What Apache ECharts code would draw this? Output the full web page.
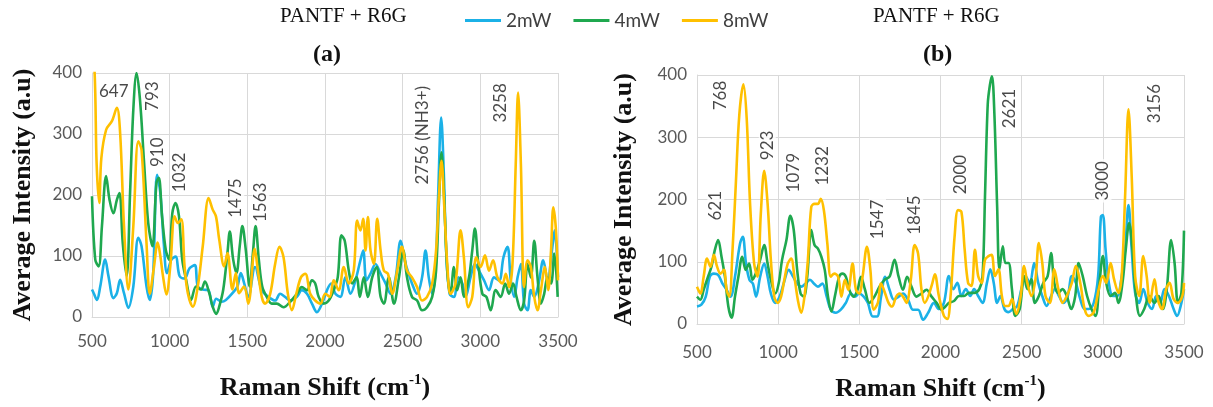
<!DOCTYPE html>
<html>
<head>
<meta charset="utf-8">
<title>Raman PANTF + R6G</title>
<script src="https://cdn.jsdelivr.net/npm/echarts@6/dist/echarts.min.js"></script>
<style>
  html, body { margin: 0; padding: 0; width: 100%; height: 100%; background: #fff; overflow: hidden; }
  #main { width: 1213px; height: 407px; }
</style>
</head>
<body>
<div id="main"></div>
<script>
// power levels
var powers = ['2mW', '4mW', '8mW'];
var colors = ['#1BB1E7', '#1FA84F', '#FFC000'];

// panel (a): [Raman shift, intensity]
var a2mW = [[500,45],[511,39],[532,28],[553,50],[585,94],[606,67],[638,31],[660,39],[681,61],[706,39],[734,15],[766,50],[798,130],[819,116],[851,50],[872,28],[894,72],[919,233],[940,203],[962,121],[983,72],[1011,94],[1038,99],[1064,67],[1096,63],[1128,80],[1162,85],[1181,50],[1213,45],[1249,44],[1277,17],[1300,30],[1335,25],[1362,28],[1404,39],[1436,50],[1458,72],[1479,56],[1506,33],[1550,82],[1593,44],[1636,33],[1679,27],[1711,38],[1743,33],[1776,27],[1819,33],[1851,44],[1884,38],[1916,22],[1948,8],[1981,22],[2013,44],[2039,55],[2067,38],[2099,33],[2131,65],[2164,38],[2196,60],[2228,93],[2246,109],[2267,60],[2293,71],[2325,87],[2358,71],[2390,55],[2422,38],[2455,65],[2487,125],[2519,87],[2540,70],[2560,55],[2593,38],[2625,65],[2647,109],[2668,65],[2690,38],[2711,76],[2728,196],[2748,327],[2765,235],[2780,109],[2802,38],[2830,33],[2858,65],[2884,55],[2905,33],[2937,65],[2965,87],[2991,76],[3024,60],[3056,44],[3088,65],[3121,60],[3149,98],[3175,115],[3196,60],[3218,33],[3240,65],[3261,87],[3282,22],[3304,11],[3325,44],[3347,33],[3375,55],[3405,93],[3433,60],[3461,109],[3478,142],[3500,65]];
var a4mW = [[500,198],[521,94],[543,83],[564,149],[591,231],[613,192],[638,170],[660,192],[677,203],[698,121],[723,67],[745,203],[766,340],[787,400],[809,356],[834,258],[862,154],[889,116],[915,220],[930,228],[951,165],[975,110],[996,94],[1017,170],[1038,187],[1060,165],[1081,94],[1106,61],[1138,28],[1170,50],[1202,45],[1227,58],[1255,39],[1277,17],[1300,5],[1319,17],[1345,45],[1372,105],[1387,140],[1409,94],[1430,72],[1451,116],[1468,149],[1490,110],[1515,50],[1536,105],[1553,149],[1574,94],[1596,50],[1625,33],[1657,22],[1690,22],[1733,16],[1776,25],[1819,38],[1851,49],[1884,44],[1916,60],[1937,55],[1959,33],[1991,22],[2024,27],[2056,44],[2082,65],[2106,134],[2127,125],[2153,76],[2175,55],[2203,65],[2224,33],[2250,65],[2276,33],[2304,65],[2332,82],[2358,33],[2379,22],[2411,65],[2444,22],[2476,65],[2504,109],[2528,65],[2560,33],[2593,27],[2625,11],[2657,16],[2690,33],[2715,76],[2733,185],[2750,270],[2767,196],[2787,76],[2808,38],[2830,82],[2851,44],[2873,65],[2894,33],[2927,65],[2948,109],[2965,145],[2987,87],[3013,38],[3039,33],[3067,11],[3099,44],[3131,33],[3160,55],[3185,38],[3211,55],[3233,33],[3261,11],[3282,27],[3304,87],[3325,65],[3347,125],[3368,65],[3390,22],[3411,38],[3433,65],[3455,55],[3476,104],[3498,33]];
var a8mW = [[500,430],[517,400],[530,250],[547,187],[560,260],[591,307],[628,321],[660,343],[681,302],[706,149],[734,45],[766,149],[798,288],[819,274],[851,121],[872,38],[898,80],[923,122],[940,100],[957,67],[979,37],[1004,83],[1032,165],[1053,154],[1075,160],[1096,83],[1117,39],[1149,17],[1181,50],[1213,116],[1251,195],[1277,176],[1298,165],[1319,127],[1351,83],[1372,105],[1404,45],[1426,72],[1447,39],[1479,50],[1506,22],[1548,112],[1565,82],[1593,33],[1614,22],[1647,38],[1679,87],[1707,115],[1733,98],[1761,38],[1787,11],[1815,38],[1845,65],[1873,71],[1905,38],[1937,27],[1970,22],[2002,38],[2030,33],[2056,60],[2088,44],[2121,82],[2153,55],[2185,76],[2207,158],[2228,142],[2246,161],[2261,109],[2276,164],[2293,109],[2315,87],[2336,161],[2358,109],[2379,76],[2405,71],[2433,38],[2465,76],[2495,115],[2528,76],[2560,65],[2593,49],[2625,27],[2657,33],[2690,55],[2715,109],[2733,196],[2750,256],[2767,185],[2787,87],[2808,38],[2840,55],[2873,142],[2894,98],[2922,16],[2948,33],[2974,98],[3002,82],[3030,101],[3056,76],[3082,93],[3110,65],[3142,55],[3164,71],[3185,49],[3207,87],[3228,251],[3243,368],[3261,251],[3282,49],[3304,93],[3325,82],[3347,33],[3368,11],[3390,44],[3416,82],[3437,44],[3455,109],[3470,180],[3487,142],[3500,60]];

// panel (b)
var b2mW = [[500,28],[527,31],[554,44],[579,76],[604,81],[630,79],[657,65],[682,55],[707,44],[734,76],[765,129],[782,140],[802,97],[823,71],[844,65],[864,44],[889,76],[914,97],[935,76],[955,49],[982,34],[1009,44],[1034,65],[1065,87],[1092,76],[1117,65],[1142,60],[1169,65],[1196,71],[1220,65],[1245,60],[1272,65],[1299,44],[1324,23],[1355,18],[1386,23],[1417,34],[1448,49],[1473,44],[1500,49],[1527,44],[1552,34],[1583,12],[1609,12],[1634,44],[1659,76],[1686,55],[1713,39],[1742,44],[1769,49],[1800,39],[1831,23],[1862,23],[1893,7],[1924,18],[1959,34],[1990,24],[2021,34],[2052,77],[2079,56],[2104,66],[2129,45],[2156,56],[2183,45],[2207,56],[2232,45],[2259,34],[2286,66],[2307,88],[2328,66],[2349,34],[2369,45],[2394,24],[2419,19],[2446,24],[2473,29],[2498,56],[2523,77],[2550,66],[2577,98],[2602,66],[2627,45],[2654,29],[2681,45],[2705,56],[2730,45],[2757,34],[2784,45],[2809,77],[2834,66],[2861,40],[2888,24],[2913,24],[2944,34],[2971,77],[2988,172],[3000,175],[3017,119],[3037,66],[3062,45],[3089,45],[3110,66],[3137,119],[3158,191],[3178,119],[3199,50],[3224,34],[3249,56],[3276,34],[3303,24],[3328,45],[3353,34],[3380,56],[3407,45],[3436,24],[3457,13],[3484,34],[3500,56]];
var b4mW = [[500,44],[521,39],[541,55],[568,76],[589,92],[610,119],[630,135],[651,108],[672,76],[693,28],[713,10],[734,44],[755,76],[779,108],[800,87],[821,97],[842,71],[862,81],[889,103],[914,127],[935,97],[955,71],[982,49],[1003,65],[1024,103],[1051,135],[1075,174],[1096,151],[1117,87],[1138,49],[1158,44],[1179,76],[1204,151],[1224,127],[1245,121],[1266,108],[1287,87],[1307,44],[1328,20],[1349,44],[1376,76],[1396,81],[1417,76],[1438,55],[1465,44],[1489,55],[1510,76],[1535,55],[1562,34],[1593,44],[1624,60],[1655,71],[1686,76],[1717,103],[1742,76],[1769,55],[1794,76],[1821,60],[1852,44],[1883,49],[1914,55],[1945,44],[1976,34],[2007,23],[2030,28],[2052,34],[2083,37],[2114,45],[2145,45],[2176,50],[2207,50],[2239,56],[2259,77],[2274,204],[2291,353],[2305,385],[2317,398],[2332,337],[2349,188],[2363,88],[2384,125],[2400,98],[2419,98],[2440,56],[2461,13],[2488,24],[2515,77],[2535,56],[2560,72],[2581,34],[2606,45],[2633,66],[2660,77],[2681,114],[2701,66],[2726,50],[2751,56],[2778,45],[2805,24],[2830,45],[2851,98],[2876,77],[2903,45],[2930,24],[2955,13],[2979,66],[3000,109],[3021,66],[3048,45],[3075,50],[3096,34],[3121,66],[3141,119],[3162,162],[3183,119],[3204,45],[3229,13],[3255,24],[3287,45],[3318,34],[3344,45],[3370,24],[3394,56],[3421,135],[3442,98],[3463,34],[3484,50],[3500,150]];
var b8mW = [[500,60],[521,49],[541,76],[562,105],[583,92],[604,111],[624,92],[645,81],[666,87],[682,55],[699,44],[719,119],[740,230],[761,337],[786,385],[806,331],[827,193],[852,97],[873,76],[893,177],[914,246],[935,193],[955,103],[976,44],[997,34],[1018,44],[1038,71],[1059,97],[1080,105],[1100,76],[1121,39],[1142,18],[1162,44],[1183,103],[1204,188],[1224,193],[1245,193],[1262,201],[1282,182],[1303,129],[1324,76],[1345,81],[1369,76],[1390,44],[1411,71],[1432,55],[1458,97],[1479,55],[1500,49],[1520,76],[1547,124],[1568,87],[1589,23],[1614,34],[1634,65],[1659,49],[1680,34],[1701,28],[1727,44],[1748,49],[1769,44],[1790,34],[1817,71],[1841,127],[1862,113],[1883,55],[1903,34],[1924,44],[1949,65],[1965,80],[1990,45],[2021,13],[2042,8],[2062,45],[2087,141],[2108,183],[2129,180],[2149,119],[2170,66],[2191,61],[2212,119],[2232,77],[2253,66],[2274,103],[2295,109],[2315,111],[2336,77],[2357,88],[2378,45],[2398,29],[2419,29],[2440,40],[2467,16],[2494,45],[2515,93],[2535,66],[2560,45],[2585,72],[2606,130],[2627,98],[2647,45],[2674,34],[2701,88],[2726,56],[2751,34],[2778,45],[2809,66],[2834,93],[2861,66],[2888,24],[2913,13],[2944,19],[2975,56],[3000,77],[3021,66],[3048,98],[3069,72],[3096,50],[3116,77],[3137,204],[3158,345],[3178,236],[3199,77],[3224,45],[3249,109],[3270,77],[3290,34],[3318,72],[3338,40],[3365,24],[3390,56],[3411,66],[3436,40],[3463,34],[3490,45],[3500,66]];

// peak labels: [text, shift, intensity, horizontal?]
var peaksA = [['647',640,369,1],['793',892,362,0],['910',924,270,0],['1032',1066,237,0],['1475',1426,195,0],['1563',1587,188,0],['2756 (NH3+)',2626,298,0],['3258',3128,351,0]];
var peaksB = [['621',616,190,0],['768',644,367,0],['923',933,287,0],['1079',1093,243,0],['1232',1273,254,0],['1547',1612,168,0],['1845',1841,175,0],['2000',2125,240,0],['2621',2428,346,0],['3000',3001,230,0],['3156',3320,354,0]];

var xTicks = { min: 500, max: 3500, interval: 500 };
var yTicks = { min: 0, max: 400, interval: 100 };

var sans = 'Lato';
var serif = 'Liberation Serif';
var gridCol = '#d9d9d9';

function xAxis(idx, gap) {
  return {
    type: 'value', gridIndex: idx, min: xTicks.min, max: xTicks.max, interval: xTicks.interval,
    axisLine: { show: true, lineStyle: { color: gridCol } },
    axisTick: { show: false },
    splitLine: { show: true, lineStyle: { color: gridCol, width: 1 } },
    axisLabel: { color: '#595959', fontFamily: sans, fontSize: 17, margin: gap, formatter: function (v) { return String(v); } },
    name: 'Raman Shift (cm{sup|-1})', nameLocation: 'middle', nameGap: idx ? 50 : 56,
    nameTextStyle: {
      fontFamily: serif, fontWeight: 'bold', fontSize: 26, color: '#111',
      rich: { sup: { fontFamily: serif, fontWeight: 'bold', fontSize: 15, color: '#111', verticalAlign: 'top', lineHeight: 30 } }
    }
  };
}
function yAxis(idx, gap) {
  return {
    type: 'value', gridIndex: idx, min: yTicks.min, max: yTicks.max, interval: yTicks.interval,
    axisLine: { show: true, lineStyle: { color: gridCol } },
    axisTick: { show: false },
    splitLine: { show: true, lineStyle: { color: gridCol, width: 1 } },
    axisLabel: { color: '#595959', fontFamily: sans, fontSize: 17, margin: 10 },
    name: 'Average Intensity (a.u)', nameLocation: 'middle', nameGap: gap,
    nameTextStyle: { fontFamily: serif, fontWeight: 'bold', fontSize: 26, color: '#111' }
  };
}

function lines(idx, arrs) {
  return arrs.map(function (d, i) {
    return {
      name: powers[i], type: 'line', xAxisIndex: idx, yAxisIndex: idx,
      data: d, smooth: 0.35, showSymbol: false, symbol: 'none',
      lineStyle: { width: 2.6, color: colors[i] }, itemStyle: { color: colors[i] },
      z: 3, animation: false
    };
  });
}
function peakLabels(idx, list) {
  return {
    type: 'scatter', xAxisIndex: idx, yAxisIndex: idx, symbolSize: 0, z: 2, silent: true,
    data: list.map(function (p) {
      return {
        value: [p[1], p[2]],
        label: {
          show: true, position: 'inside', formatter: p[0], rotate: p[3] ? 0 : 90,
          fontFamily: sans, fontSize: 17, color: '#1a1a1a',
          backgroundColor: p[3] ? 'transparent' : '#fff', padding: [0, 2]
        }
      };
    })
  };
}

var chart = echarts.init(document.getElementById('main'));
chart.setOption({
  backgroundColor: '#fff',
  animation: false,
  legend: {
    data: powers, left: 460, top: 6, itemWidth: 36, itemHeight: 3, itemGap: 22, icon: 'rect',
    textStyle: { fontFamily: sans, fontSize: 19, color: '#404040' }
  },
  graphic: [
    { type: 'text', left: 280, top: 6, style: { text: 'PANTF + R6G', font: '21px "Liberation Serif"', fill: '#111' } },
    { type: 'text', left: 873, top: 6, style: { text: 'PANTF + R6G', font: '21px "Liberation Serif"', fill: '#111' } },
    { type: 'text', left: 313, top: 43, style: { text: '(a)', font: 'bold 24px "Liberation Serif"', fill: '#111' } },
    { type: 'text', left: 923, top: 43, style: { text: '(b)', font: 'bold 24px "Liberation Serif"', fill: '#111' } }
  ],
  grid: [
    { left: 92, top: 73, width: 466, height: 244 },
    { left: 697, top: 75, width: 487, height: 252 }
  ],
  xAxis: [xAxis(0, 16), xAxis(1, 20)],
  yAxis: [yAxis(0, 56), yAxis(1, 60)],
  series: [peakLabels(0, peaksA), peakLabels(1, peaksB)]
    .concat(lines(0, [a2mW, a4mW, a8mW]))
    .concat(lines(1, [b2mW, b4mW, b8mW]))
});
</script>
</body>
</html>
